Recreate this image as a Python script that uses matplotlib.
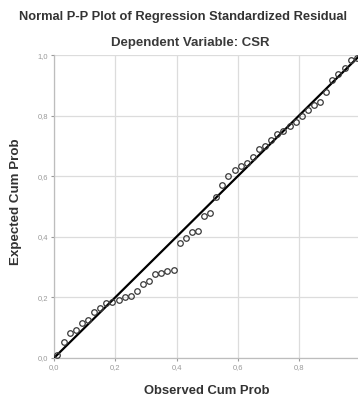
import matplotlib
matplotlib.use("Agg")
import matplotlib.pyplot as plt
from matplotlib.ticker import FuncFormatter

observed = [0.01,0.03,0.05,0.07,0.09,0.11,0.13,0.15,0.17,0.19,0.21,0.23,0.25,0.27,0.29,
            0.31,0.33,0.35,0.37,0.39,0.41,0.43,0.45,0.47,0.49,0.51,0.53,0.55,0.57,0.59,
            0.61,0.63,0.65,0.67,0.69,0.71,0.73,0.75,0.77,0.79,0.81,0.83,0.85,0.87,0.89,
            0.91,0.93,0.95,0.97,0.99]
expected = [0.01,0.05,0.08,0.09,0.115,0.125,0.15,0.165,0.18,0.185,0.19,0.20,0.205,0.22,0.245,
            0.255,0.275,0.28,0.285,0.29,0.38,0.395,0.415,0.42,0.47,0.48,0.53,0.57,0.60,0.62,
            0.635,0.645,0.665,0.69,0.70,0.72,0.74,0.75,0.765,0.78,0.80,0.82,0.835,0.845,0.88,
            0.92,0.94,0.96,0.985,0.99]
ticks = [0.0, 0.2, 0.4, 0.6, 0.8, 1.0]

plt.rcParams['font.family'] = ['Liberation Sans', 'DejaVu Sans']
fig = plt.figure(figsize=(3.58, 3.96), dpi=100)
ax = fig.add_axes([0.152, 0.097, 0.853, 0.763])

ax.set_xlim(0, 1.0)
ax.set_ylim(0, 1.0)
ax.set_xticks(ticks)
ax.set_yticks(ticks)
ax.xaxis.set_major_formatter(FuncFormatter(lambda v, p: ("%.1f" % v).replace('.', ',') if v < 0.999 else "1"))
ax.yaxis.set_major_formatter(FuncFormatter(lambda v, p: ("%.1f" % v).replace('.', ',')))
ax.grid(True, color='#dcdcdc', linewidth=0.9)
ax.set_axisbelow(True)
for s in ['top', 'right']:
    ax.spines[s].set_visible(False)
for s in ['left', 'bottom']:
    ax.spines[s].set_color('#bdbdbd')
    ax.spines[s].set_linewidth(0.9)
ax.tick_params(axis='both', labelsize=5.5, colors='#9a9a9a', length=2.5, width=0.8, pad=2)

ax.plot([0, 1], [0, 1], color='black', linewidth=1.6, zorder=3)
ax.plot(observed, expected, linestyle='none', marker='o', markersize=4,
        markerfacecolor='none', markeredgecolor='#3a3a3a', markeredgewidth=0.9, zorder=4)

fig.text(0.512, 0.957, "Normal P-P Plot of Regression Standardized Residual",
         ha='center', va='center', fontsize=9.3, fontweight='bold', color='#333333')
fig.text(0.531, 0.891, "Dependent Variable: CSR",
         ha='center', va='center', fontsize=9.5, fontweight='bold', color='#3a3a3a')
fig.text(0.578, 0.012, "Observed Cum Prob",
         ha='center', va='center', fontsize=9.4, fontweight='bold', color='#333333')
fig.text(0.045, 0.49, "Expected Cum Prob", rotation=90,
         ha='center', va='center', fontsize=9.6, fontweight='bold', color='#333333')

fig.savefig("out.png", dpi=100)
